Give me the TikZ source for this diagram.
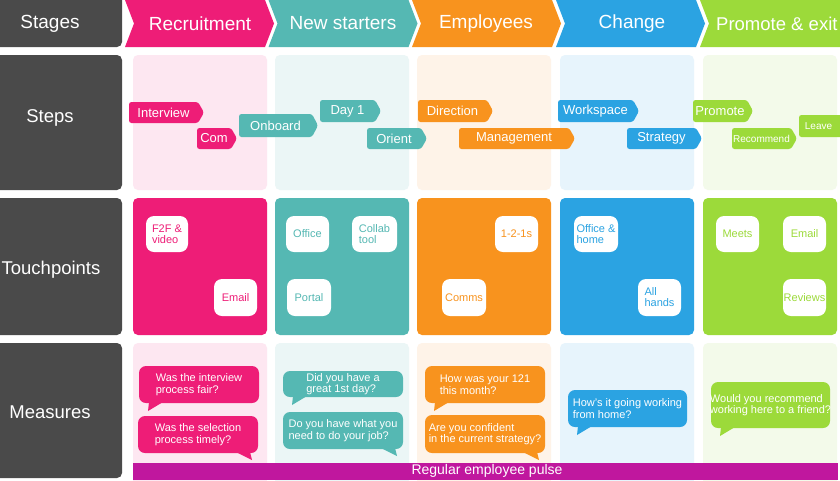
\documentclass[tikz,border=0pt]{standalone}
\usepackage{fontspec}
\setmainfont{Liberation Sans}
\definecolor{cpink}{HTML}{EE1D77}
\definecolor{cteal}{HTML}{55B8B3}
\definecolor{corange}{HTML}{F8931E}
\definecolor{cblue}{HTML}{2BA3E2}
\definecolor{cgreen}{HTML}{9CDA3A}
\definecolor{cdark}{HTML}{4A4A4A}
\definecolor{cbar}{HTML}{C0179E}
\definecolor{lpink}{HTML}{FDE7F1}
\definecolor{lteal}{HTML}{EBF6F6}
\definecolor{lorange}{HTML}{FEF3E8}
\definecolor{lblue}{HTML}{E7F4FC}
\definecolor{lgreen}{HTML}{F3FAEA}
\tikzset{
  headtext/.style={text=white, font=\fontsize{19}{22}\selectfont, inner sep=0pt},
  rowtext/.style={text=white, font=\fontsize{18.5}{22}\selectfont, inner sep=0pt},
  tagtext/.style={text=white, inner sep=0pt},
  tptext/.style={font=\fontsize{11}{11}\selectfont, align=left, inner sep=0pt},
  bubtext/.style={text=white, font=\fontsize{11}{11.5}\selectfont, align=left, inner sep=0pt},
  panel/.style={rounded corners=5pt},
}
\newcommand\chev[5]{%
  \fill[#3] (#2,0) -- ({#2+140},0) -- ({#2+149},23.5) -- ({#2+140},47) -- (#2,47) -- ({#2+9},23.5) -- cycle;
  \node[headtext] (#1) at (#5,23.5) {#4};
}
\newcommand\steptag[8]{%
  \fill[#6, rounded corners=2.5pt] (#2,#3) -- ({#4-6},#3) -- (#4,{(#3+#5)/2}) -- ({#4-6},#5) -- (#2,#5) -- cycle;
  \node[tagtext, font=#7] (#1) at ({(#2+#4-6)/2},{(#3+#5)/2}) {#8};
}
\newcommand\tp[7]{%
  \fill[white, rounded corners=8pt] (#2,#3) rectangle (#4,#5);
  \node[tptext, text=#6] (#1) at ({(#2+#4)/2},{(#3+#5)/2}) {#7};
}
\newcommand\bubble[8]{%
  \fill[#6, rounded corners=7pt] (#2,#3) rectangle (#4,#5);
  \ifx L#7 \fill[#6] ({#2+10},{#5-1}) -- ({#2+24},{#5-1}) -- ({#2+9},{#5+8}) -- cycle;
  \else \fill[#6] ({#4-22},{#5-1}) -- ({#4-8},{#5-1}) -- ({#4-6},{#5+7}) -- cycle; \fi
  \node[bubtext] (#1) at ({(#2+#4)/2},{(#3+#5)/2}) {#8};
}
\begin{document}
\begin{tikzpicture}[x=1pt,y=-1pt]
\useasboundingbox (0,0) rectangle (840,480);
\fill[white] (0,0) rectangle (840,480);
% row labels
\fill[cdark, panel] (-22,-10) rectangle (122,47);
\node[headtext] (stages) at (50,23.5) {Stages};
\fill[cdark, panel] (-22,55) rectangle (122,190);
\node[rowtext] (steps) at (50,118) {Steps};
\fill[cdark, panel] (-22,198) rectangle (122,335);
\node[rowtext] (touch) at (51,270) {Touchpoints};
\fill[cdark, panel] (-22,343) rectangle (122,478);
\node[rowtext] (meas) at (50,412) {Measures};
% header chevrons
\chev{hrec}{125}{cpink}{Recruitment}{200}
\chev{hnew}{268.5}{cteal}{New starters}{343}
\chev{hemp}{412}{corange}{Employees}{486}
\chev{hcha}{556}{cblue}{Change}{632}
\fill[cgreen] (700,0) -- (850,0) -- (850,47) -- (700,47) -- (709,23.5) -- cycle;
\node[headtext, font=\fontsize{18.5}{22}\selectfont, anchor=west] (hpro) at (716,23.5) {Promote \& exit};
% panels
\foreach \x/\lc/\c in {133/lpink/cpink, 275/lteal/cteal, 417/lorange/corange, 560/lblue/cblue, 703/lgreen/cgreen}{
  \fill[\lc, panel] (\x,55) rectangle ({\x+134},190);
  \fill[\c, panel] (\x,198) rectangle ({\x+134},335);
  \fill[\lc, panel] (\x,343) rectangle ({\x+134},485);
}
% steps
\def\fs{\fontsize{13}{15}\selectfont}
\def\fss{\fontsize{10}{12}\selectfont}
\steptag{interview}{129}{102}{204}{123}{cpink}{\fs}{Interview}
\steptag{com}{197}{128}{237}{149}{cpink}{\fs}{Com}
\steptag{onboard}{239}{114}{318}{137}{cteal}{\fs}{Onboard}
\steptag{day}{320}{100}{381}{122}{cteal}{\fs}{Day 1}
\steptag{orient}{367}{128}{427}{149}{cteal}{\fs}{Orient}
\steptag{direction}{418}{100}{493}{122}{corange}{\fs}{Direction}
\steptag{management}{459}{128}{575}{149}{corange}{\fs}{Management}
\steptag{workspace}{558}{100}{639}{122}{cblue}{\fs}{Workspace}
\steptag{strategy}{627}{128}{702}{149}{cblue}{\fs}{Strategy}
\steptag{promote}{693}{100}{753}{122}{cgreen}{\fs}{Promote}
\steptag{recommend}{732}{128}{797}{149}{cgreen}{\fss}{Recommend}
\fill[cgreen, rounded corners=2.5pt] (799,115) rectangle (845,137);
\node[tagtext, font=\fss] (leave) at (818.5,126) {Leave};
% touchpoints
\tp{f2f}{146}{216}{188}{252}{cpink}{F2F \&\\video}
\tp{email1}{214}{279}{257}{316}{cpink}{Email}
\tp{office}{286}{216}{329}{252}{cteal}{Office}
\tp{collab}{352}{216}{397}{252}{cteal}{Collab\\tool}
\tp{portal}{287}{279}{331}{316}{cteal}{Portal}
\tp{oneone}{495}{216}{538}{252}{corange}{1-2-1s}
\tp{comms}{442}{279}{486}{316}{corange}{Comms}
\tp{offhome}{574}{216}{618}{252}{cblue}{Office \&\\home}
\tp{allhands}{638}{279}{681}{316}{cblue}{All\\hands}
\tp{meets}{716}{216}{759}{252}{cgreen}{Meets}
\tp{email2}{783}{216}{826}{252}{cgreen}{Email}
\tp{reviews}{783}{279}{826}{316}{cgreen}{Reviews}
% measures
\bubble{b1}{139}{366}{259}{403}{cpink}{L}{Was the interview\\process fair?}
\bubble{b2}{138}{416}{258}{453}{cpink}{R}{Was the selection\\process timely?}
\bubble{b3}{283}{371}{403}{397}{cteal}{L}{Did you have a\\great 1st day?}
\bubble{b4}{283}{412}{403}{449}{cteal}{R}{Do you have what you\\need to do your job?}
\bubble{b5}{425}{366}{545}{403}{corange}{L}{How was your 121\\this month?}
\bubble{b6}{425}{415}{545}{453}{corange}{R}{Are you confident\\in the current strategy?}
\bubble{b7}{568}{390}{687}{427}{cblue}{L}{How's it going working\\from home?}
\bubble{b8}{711}{382}{830}{428}{cgreen}{L}{Would you recommend\\working here to a friend?}
% bar
\fill[cbar] (133,463) rectangle (838,480);
\node[text=white, font=\fontsize{14}{16}\selectfont, inner sep=0pt] (pulse) at (487,471) {Regular employee pulse};
\end{tikzpicture}
\end{document}
